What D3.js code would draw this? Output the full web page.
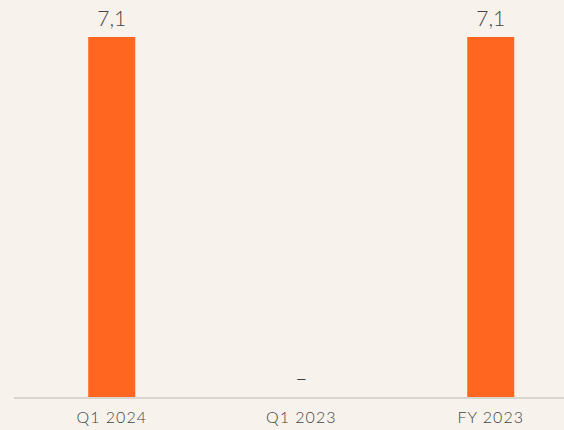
<!DOCTYPE html>
<html>
<head>
<meta charset="utf-8">
<script src="https://cdn.jsdelivr.net/npm/d3@7"></script>
<style>
  html, body { margin: 0; padding: 0; background: #f7f3ec; }
  svg { display: block; }
  text { font-family: Lato, "Open Sans", sans-serif; }
</style>
</head>
<body>
<svg width="564" height="430"></svg>
<script>
// chart data
const categories = ['Q1 2024', 'Q1 2023', 'FY 2023'];
const values = [7.1, null, 7.1];
const valueLabels = ['7,1', '–', '7,1'];

const svg = d3.select('svg');
const baseY = 397;

const x = d3.scaleBand()
  .domain(categories)
  .range([17, 585.5]);

const y = d3.scaleLinear()
  .domain([0, 7.1])
  .range([baseY, 37]);

const barW = 47;

svg.selectAll('rect.bar')
  .data(categories.map((c, i) => ({c: c, v: values[i]})).filter(d => d.v != null))
  .enter()
  .append('rect')
  .attr('class', 'bar')
  .attr('x', d => x(d.c) + x.bandwidth() / 2 - barW / 2)
  .attr('y', d => y(d.v))
  .attr('width', barW)
  .attr('height', d => baseY - y(d.v))
  .style('fill', '#ff6620');

// baseline
svg.append('line')
  .attr('x1', 14).attr('x2', 564)
  .attr('y1', baseY + 1).attr('y2', baseY + 1)
  .style('stroke', '#d9d6d1')
  .style('stroke-width', 2);

// value labels
svg.selectAll('text.val')
  .data(categories)
  .enter()
  .append('text')
  .attr('class', 'val')
  .attr('x', d => x(d) + x.bandwidth() / 2)
  .attr('y', (d, i) => values[i] == null ? baseY - 11 : y(values[i]) - 11)
  .attr('text-anchor', 'middle')
  .style('font-size', '21px')
  .style('font-weight', 300)
  .style('fill', '#444')
  .text((d, i) => valueLabels[i]);

// axis labels
const xAxis = svg.append('g')
  .attr('transform', `translate(0,${baseY + 1})`)
  .call(d3.axisBottom(x).tickSize(0));
xAxis.select('.domain').remove();
xAxis.selectAll('text')
  .attr('font-family', null)
  .attr('y', 25)
  .attr('dy', null)
  .style('font-size', '16px')
  .style('letter-spacing', '1px')
  .style('font-weight', 300)
  .style('fill', '#444');
</script>
</body>
</html>
